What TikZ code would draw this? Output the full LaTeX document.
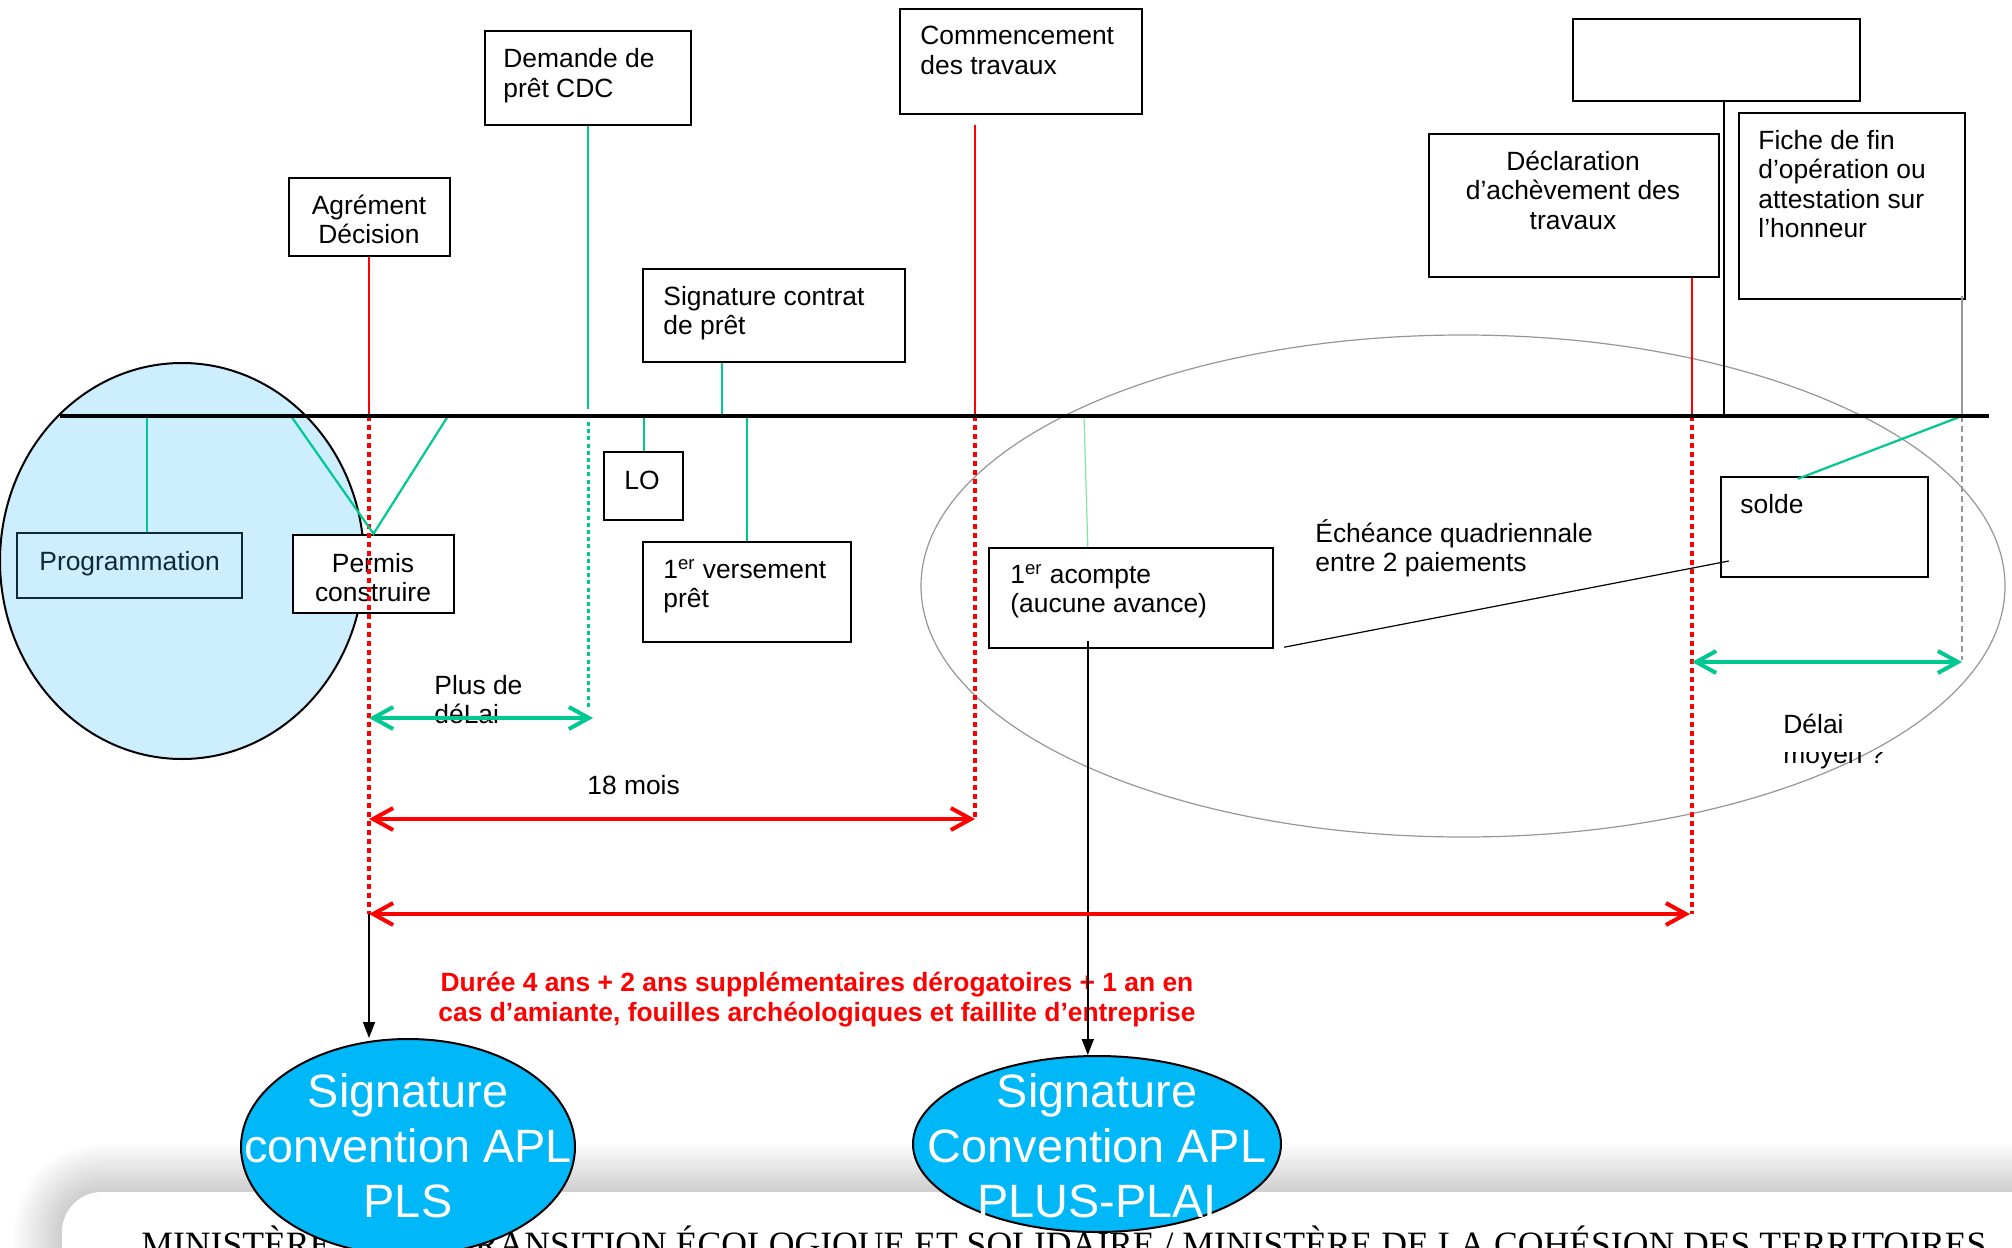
\documentclass[tikz,border=0pt]{standalone}
\usepackage{fontspec}
\usepackage{graphicx}
\setmainfont{Liberation Sans}
\newfontfamily\footserif{Liberation Serif}
\usetikzlibrary{arrows.meta,shapes.geometric}
\definecolor{cblue}{RGB}{204,238,255}
\definecolor{cgreen}{RGB}{0,200,145}
\definecolor{clgreen}{RGB}{130,230,160}
\definecolor{csig}{RGB}{0,184,248}
\definecolor{cnavy}{RGB}{16,40,60}
\definecolor{cgray}{RGB}{150,150,150}
\newcommand\lns[2][l]{\begin{tabular}[t]{@{}#1@{}}#2\end{tabular}}
\newcommand\mkbox[6][]{\node[box,#1,minimum width={(#5-#3)*0.5pt},minimum height={(#6-#4)*0.5pt}] (#2) at ({(#3+#5)/2},{(#4+#6)/2}) {};}
\begin{document}
\begin{tikzpicture}[x=0.5pt,y=-0.5pt,
  box/.style={rectangle,draw=black,line width=1.2pt,inner sep=0pt},
  txt/.style={inner sep=0pt,font=\fontsize{13.2}{14.8}\selectfont},
  sigtxt/.style={inner sep=0pt,text=white,font=\fontsize{23.4}{27.5}\selectfont},
  sigell/.style={ellipse,draw=black,line width=1pt,fill=csig,inner sep=0pt},
  redl/.style={red,line width=1.1pt},
  redd/.style={red,line width=1.7pt,dash pattern=on 2.5pt off 2pt},
  grnl/.style={cgreen,line width=1.1pt},
  grnd/.style={cgreen,line width=1.5pt,dash pattern=on 2pt off 1.6pt},
  chev/.style={line width=2pt,{Straight Barb[length=10pt,width=11pt]}-{Straight Barb[length=10pt,width=11pt]}},
  blk/.style={black,line width=0.8pt,-{Triangle[length=8pt,width=6pt]}},
]
\useasboundingbox (0,0) rectangle (2012,1247);
\clip (0,0) rectangle (2012,1247);

% footer card with soft shadow
\foreach \i in {1,...,16}{
  \pgfmathsetmacro\rr{20+\i*1.5}
  \fill[black,opacity=0.013,rounded corners=\rr pt] ({62-3*\i},{1192-3*\i}) rectangle (2400,1500);
}
\fill[white,rounded corners=20pt] (62,1192) rectangle (2400,1500);
\node[anchor=base west,inner sep=0pt] (foot) at (141,1256) {\resizebox{922.5pt}{!}{\footserif MINISTÈRE DE LA TRANSITION ÉCOLOGIQUE ET SOLIDAIRE / MINISTÈRE DE LA COHÉSION DES TERRITOIRES}};

% zones
\node[ellipse,draw=black,line width=1pt,fill=cblue,minimum width=182pt,minimum height=198pt,inner sep=0pt] (circ) at (182,561) {};
\node[ellipse,draw=cgray,line width=0.6pt,minimum width=542pt,minimum height=251pt,inner sep=0pt] (zone) at (1463,586) {};

% boxes
\mkbox[fill=white]{agr}{289}{178}{450}{256}
\mkbox[fill=white]{dem}{485}{31}{691}{125}
\mkbox[fill=white]{com}{900}{9}{1142}{114}
\mkbox[fill=white]{sig}{643}{269}{905}{362}
\mkbox[fill=white]{lo}{604}{452}{683}{520}
\mkbox[fill=white]{vers}{643}{542}{851}{642}
\mkbox[draw=cnavy]{prog}{17}{533}{242}{598}
\mkbox[fill=white]{perm}{293}{535}{454}{613}
\mkbox[fill=white]{aco}{989}{548}{1273}{648}
\mkbox[fill=white]{empty}{1573}{19}{1860}{101}
\mkbox[fill=white]{decl}{1429}{134}{1719}{277}
\mkbox[fill=white]{fiche}{1739}{113}{1965}{299}
\mkbox[fill=white]{solde}{1721}{477}{1928}{577}

% signature ellipses
\node[sigell,minimum width=167pt,minimum height=108pt] (s1) at (408,1147) {};
\node[sigell,minimum width=184pt,minimum height=88pt] (s2) at (1097,1144) {};
\node[sigtxt,anchor=base] (s1t) at (408,1107) {\lns[c]{Signature\\convention APL\\PLS}};
\node[sigtxt,anchor=base] (s2t) at (1097,1107) {\lns[c]{Signature\\Convention APL\\PLUS-PLAI}};

% texts
\node[txt,anchor=base] (tagr) at (369,214) {\lns[c]{Agrément\\Décision}};
\node[txt,anchor=base west] (tdem) at (503,68) {\lns{Demande de\\prêt CDC}};
\node[txt,anchor=base west] (tcom) at (920,45) {\lns{Commencement\\des travaux}};
\node[txt,anchor=base west] (tsig) at (663,305) {\lns{Signature contrat\\de prêt}};
\node[txt,anchor=base west] (tlo) at (624,489) {LO};
\node[txt,anchor=base west] (tvers) at (663,578) {\lns{1\textsuperscript{er} versement\\prêt}};
\node[txt,anchor=base west,text=cnavy] (tprog) at (39,570) {Programmation};
\node[txt,anchor=base] (tperm) at (373,572) {\lns[c]{Permis\\construire}};
\node[txt,anchor=base west] (tplus) at (434,694) {\lns{Plus de\\déLai}};
\node[txt,anchor=base west] (t18) at (587,794) {18 mois};
\node[txt,anchor=base west] (taco) at (1010,583) {\lns{1\textsuperscript{er} acompte\\(aucune avance)}};
\node[txt,anchor=base west] (tech) at (1315,542) {\lns{Échéance quadriennale\\entre 2 paiements}};
\node[txt,anchor=base west] (tsolde) at (1740,513) {solde};
\node[txt,anchor=base west] (tdelai) at (1783,733) {Délai};
\begin{scope}
  \clip (1700,752) rectangle (2000,800);
  \node[txt,anchor=base west] (tmoy) at (1783,763) {moyen ?};
\end{scope}
\node[txt,anchor=base] (tdecl) at (1573,170) {\lns[c]{Déclaration\\d’achèvement des\\travaux}};
\node[txt,anchor=base west] (tfiche) at (1758,149) {\lns{Fiche de fin\\d’opération ou\\attestation sur\\l’honneur}};
\node[anchor=base,inner sep=0pt,text=red,font=\bfseries\fontsize{13.2}{15}\selectfont] (tdur) at (817,991) {\lns[c]{Durée 4 ans + 2 ans supplémentaires dérogatoires + 1 an en\\cas d’amiante, fouilles archéologiques et faillite d’entreprise}};

% timeline points
\coordinate (tA) at (369,416);
\coordinate (tD) at (588,416);
\coordinate (tC) at (975,416);
\coordinate (tS) at (722,416);
\coordinate (tL) at (644,416);
\coordinate (tV) at (747,416);
\coordinate (tP) at (147,416);
\coordinate (tV1) at (291,416);
\coordinate (tV2) at (448,416);
\coordinate (tK) at (1084,416);
\coordinate (tE) at (1692,416);
\coordinate (tX) at (1724,416);
\coordinate (tF) at (1962,416);
\coordinate (eA) at (369,914);
\coordinate (eD) at (588,710);
\coordinate (eC) at (975,817);
\coordinate (eE) at (1692,914);
\coordinate (eF) at (1962,660);
\coordinate (kA) at ([xshift=50pt,yshift=4pt]aco.south west);

% connectors
\draw[redl] (agr.south -| tA) -- (tA);
\draw[redd] (tA) -- (eA);
\draw[blk] (eA) -- (eA |- s1.north);
\draw[grnl] (dem.south -| tD) -- ([yshift=3.5pt]tD);
\draw[grnd] ([yshift=-3pt]tD) -- (eD);
\draw[redl] ([yshift=-5pt]com.south -| tC) -- (tC);
\draw[redd] (tC) -- (eC);
\draw[grnl] (sig.south -| tS) -- (tS);
\draw[grnl] (tL) -- (lo.north -| tL);
\draw[grnl] (tV) -- (vers.north -| tV);
\draw[grnl] (tP) -- (prog.north -| tP);
\draw[grnl] (tV1) -- (perm.north) -- (tV2);
\draw[clgreen,line width=0.6pt] (tK) -- ([xshift=50pt]aco.north west);
\draw[blk] (kA) -- (kA |- s2.north);
\draw[black,line width=0.6pt] ([xshift=5pt,yshift=1pt]aco.south east) -- ([xshift=4.5pt,yshift=-17pt]solde.west);
\draw[redl] (decl.south -| tE) -- (tE);
\draw[redd] (tE) -- (eE);
\draw[black,line width=1pt] (empty.south -| tX) -- (tX);
\draw[cgray,line width=0.9pt] ([yshift=2pt]fiche.south -| tF) -- (tF);
\draw[cgray,line width=1pt,dash pattern=on 3pt off 2pt] (tF) -- (eF);
\draw[grnl] (tF) -- ([xshift=39pt,yshift=-1.5pt]solde.north west);

% timeline
\draw[black,line width=2pt] (60,416) coordinate (tl0) -- (1989,416) coordinate (tl1);

% duration arrows
\coordinate (gA1) at (369,718);
\coordinate (gA2) at (593,718);
\coordinate (rA1) at (369,819);
\coordinate (rA2) at (975,819);
\coordinate (rB1) at (369,914);
\coordinate (rB2) at (1690,914);
\coordinate (gB1) at (1692,662);
\coordinate (gB2) at (1962,662);
\draw[chev,cgreen] (gA1) -- (gA2);
\draw[chev,red] (rA1) -- (rA2);
\draw[chev,red] (rB1) -- (rB2);
\draw[chev,cgreen] (gB1) -- (gB2);
\end{tikzpicture}
\end{document}
